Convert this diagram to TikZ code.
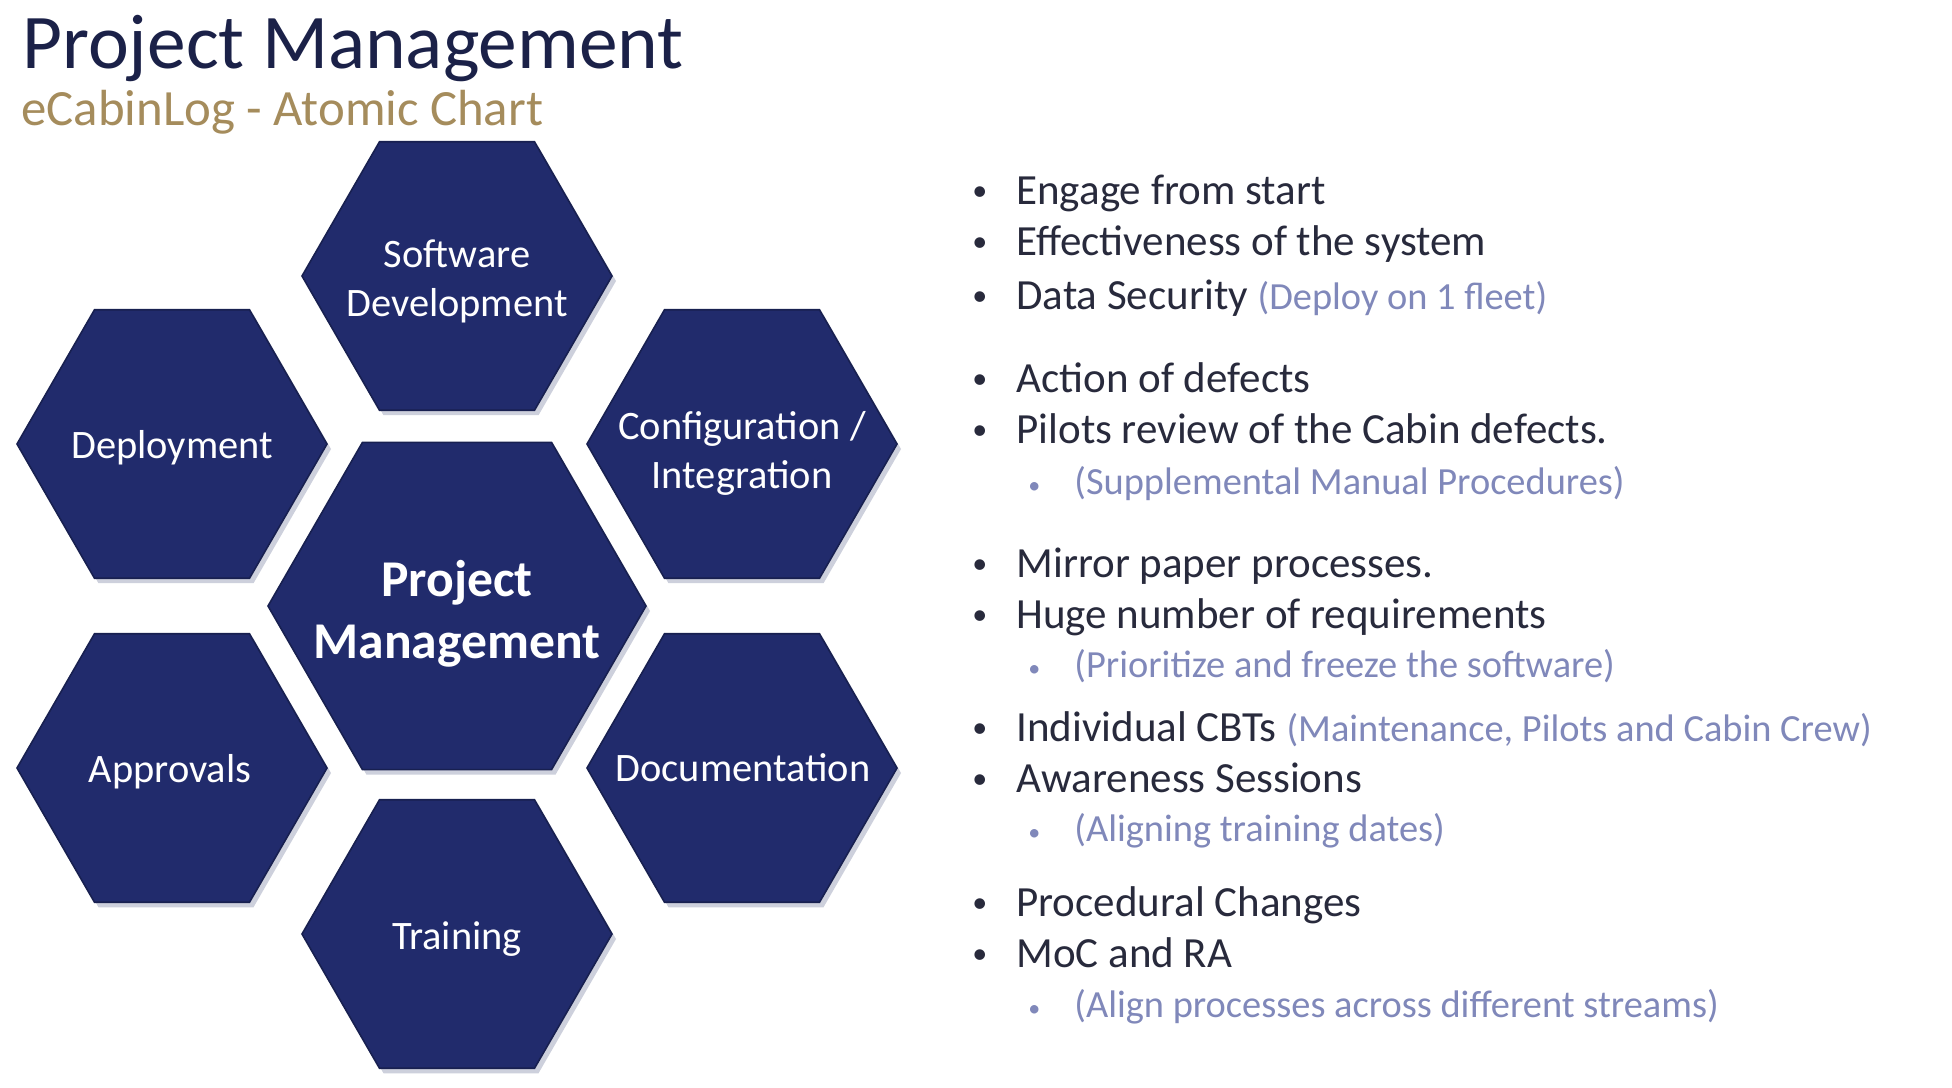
\documentclass[tikz,border=0pt]{standalone}
\usepackage{fontspec}
\setmainfont{Carlito}
\definecolor{hexnavy}{RGB}{33,43,108}
\definecolor{hexedge}{RGB}{24,32,80}
\definecolor{titlenavy}{RGB}{27,33,72}
\definecolor{subgold}{RGB}{165,140,92}
\definecolor{bultext}{RGB}{40,42,60}
\definecolor{parcol}{RGB}{128,136,186}
\definecolor{shadowgray}{RGB}{205,208,220}
\newcommand\hexshape[3]{%
  \fill[shadowgray] ({#1+4},{#2+5}) +(0:#3) -- +(60:#3) -- +(120:#3) -- +(180:#3) -- +(240:#3) -- +(300:#3) -- cycle;
  \filldraw[fill=hexnavy,draw=hexedge,line width=0.8pt] (#1,#2) +(0:#3) -- +(60:#3) -- +(120:#3) -- +(180:#3) -- +(240:#3) -- +(300:#3) -- cycle;}
\tikzset{
  hexlabel/.style={text=white,align=center,inner sep=0pt,font=\fontsize{20.2}{24.5}\selectfont},
  mainitem/.style={anchor=base west,inner sep=0pt,text=bultext,font=\fontsize{21.5}{26}\selectfont},
  subitem/.style={anchor=base west,inner sep=0pt,text=parcol,font=\fontsize{19.2}{24}\selectfont},
}
\newcommand\mainbul{\llap{\makebox[22pt][l]{\raisebox{1.6pt}{\fontsize{15}{15}\selectfont•}}}}
\newcommand\subbul{\llap{\makebox[23pt][l]{\raisebox{0.5pt}{\fontsize{12}{12}\selectfont•}}}}
\newcommand\parnote[1]{{\color{parcol}\fontsize{19.2}{24}\selectfont#1}}
\begin{document}
\begin{tikzpicture}[x=0.5pt,y=-0.5pt]
\useasboundingbox (0,0) rectangle (1952,1087);
\fill[white] (0,0) rectangle (1952,1087);
% titles
\node[anchor=base west,inner sep=0pt,text=titlenavy,font=\fontsize{38.7}{44}\selectfont] (title) at (22,68) {Project Management};
\node[anchor=base west,inner sep=0pt,text=subgold,font=\fontsize{25.4}{30}\selectfont] (subtitle) at (21,125) {eCabinLog - Atomic Chart};
% hexagons
\hexshape{457}{276}{155}
\hexshape{172}{444}{155}
\hexshape{742}{444}{155}
\hexshape{457}{606}{189}
\hexshape{172}{768}{155}
\hexshape{742}{768}{155}
\hexshape{457}{934}{155}
\node[hexlabel] (sd) at (457,281) {Software\\Development};
\node[hexlabel] (dep) at (172,448) {Deployment};
\node[hexlabel] (conf) at (742,453) {Configuration /\\Integration};
\node[hexlabel,font=\bfseries\fontsize{25.8}{31}\selectfont] (pm) at (457,614) {Project\\Management};
\node[hexlabel] (app) at (170,772) {Approvals};
\node[hexlabel] (doc) at (743,768) {Documentation};
\node[hexlabel] (tr) at (457,939) {Training};
% bullets
\node[mainitem] (b1) at (1016,204) {\mainbul Engage from start};
\node[mainitem] (b2) at (1016,255) {\mainbul Effectiveness of the system};
\node[mainitem] (b3) at (1016,309) {\mainbul Data Security \parnote{(Deploy on 1 fleet)}};
\node[mainitem] (b4) at (1016,392) {\mainbul Action of defects};
\node[mainitem] (b5) at (1016,443) {\mainbul Pilots review of the Cabin defects.};
\node[subitem] (s1) at (1074,494) {\subbul(Supplemental Manual Procedures)};
\node[mainitem] (b6) at (1016,577) {\mainbul Mirror paper processes.};
\node[mainitem] (b7) at (1016,628) {\mainbul Huge number of requirements};
\node[subitem] (s2) at (1074,677) {\subbul(Prioritize and freeze the software)};
\node[mainitem] (b8) at (1016,741) {\mainbul Individual CBTs \parnote{(Maintenance, Pilots and Cabin Crew)}};
\node[mainitem] (b9) at (1016,792) {\mainbul Awareness Sessions};
\node[subitem] (s3) at (1074,841) {\subbul(Aligning training dates)};
\node[mainitem] (b10) at (1016,916) {\mainbul Procedural Changes};
\node[mainitem] (b11) at (1016,967) {\mainbul MoC and RA};
\node[subitem] (s4) at (1074,1017) {\subbul(Align processes across different streams)};
\end{tikzpicture}
\end{document}
